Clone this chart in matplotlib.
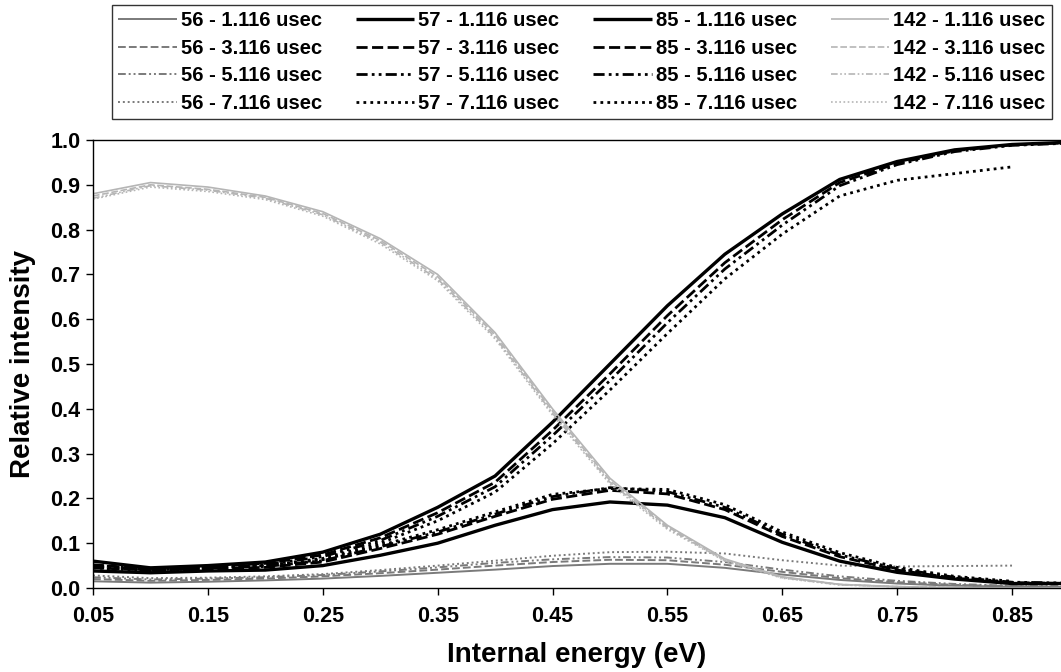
import matplotlib
matplotlib.use("Agg")
import matplotlib.pyplot as plt
import numpy as np

plt.rcParams['font.family'] = ['Liberation Sans', 'DejaVu Sans']
plt.rcParams['font.weight'] = 'bold'

# Internal energy categories (eV)
energy = [0.05, 0.10, 0.15, 0.20, 0.25, 0.30, 0.35, 0.40, 0.45,
          0.50, 0.55, 0.60, 0.65, 0.70, 0.75, 0.80, 0.85, 0.90]
tick_labels = ["0.05", "0.15", "0.25", "0.35", "0.45", "0.55", "0.65", "0.75", "0.85"]
times = ["1.116", "3.116", "5.116", "7.116"]

# m/z 56
s56_1 = [0.015, 0.012, 0.014, 0.017, 0.021, 0.027, 0.034, 0.041, 0.049, 0.054, 0.054, 0.045, 0.030, 0.018, 0.010, 0.005, 0.003, 0.002]
s56_3 = [0.020, 0.016, 0.018, 0.021, 0.026, 0.033, 0.041, 0.050, 0.058, 0.063, 0.062, 0.052, 0.036, 0.022, 0.013, 0.007, 0.004, 0.003]
s56_5 = [0.024, 0.019, 0.021, 0.024, 0.029, 0.037, 0.046, 0.056, 0.064, 0.069, 0.068, 0.058, 0.041, 0.026, 0.016, 0.009, 0.005, 0.004]
s56_7 = [0.028, 0.022, 0.023, 0.026, 0.031, 0.040, 0.050, 0.061, 0.072, 0.080, 0.081, 0.077, 0.062, 0.050, 0.048, 0.049, 0.050]

# m/z 57 (rising)
s57_1 = [0.060, 0.045, 0.050, 0.058, 0.080, 0.120, 0.180, 0.250, 0.370, 0.500, 0.630, 0.745, 0.835, 0.912, 0.952, 0.978, 0.990, 0.995]
s57_3 = [0.052, 0.042, 0.047, 0.055, 0.074, 0.112, 0.168, 0.236, 0.352, 0.478, 0.608, 0.726, 0.822, 0.905, 0.948, 0.976, 0.989, 0.994]
s57_5 = [0.048, 0.040, 0.045, 0.052, 0.070, 0.106, 0.160, 0.226, 0.340, 0.463, 0.592, 0.712, 0.810, 0.898, 0.945, 0.974, 0.988, 0.993]
s57_7 = [0.045, 0.038, 0.043, 0.050, 0.066, 0.100, 0.150, 0.214, 0.322, 0.442, 0.568, 0.690, 0.790, 0.875, 0.910, 0.925, 0.940]

# m/z 85 (intermediate)
s85_1 = [0.038, 0.034, 0.038, 0.040, 0.050, 0.073, 0.100, 0.140, 0.175, 0.192, 0.185, 0.157, 0.102, 0.060, 0.035, 0.020, 0.010, 0.010]
s85_3 = [0.045, 0.040, 0.043, 0.046, 0.058, 0.088, 0.120, 0.160, 0.198, 0.218, 0.210, 0.175, 0.115, 0.070, 0.040, 0.022, 0.012, 0.010]
s85_5 = [0.048, 0.042, 0.045, 0.048, 0.061, 0.092, 0.125, 0.165, 0.204, 0.224, 0.215, 0.180, 0.120, 0.074, 0.043, 0.024, 0.013, 0.011]
s85_7 = [0.050, 0.044, 0.047, 0.050, 0.063, 0.095, 0.130, 0.170, 0.209, 0.222, 0.220, 0.186, 0.125, 0.079, 0.046, 0.026, 0.015]

# m/z 142 (parent)
s142_1 = [0.880, 0.905, 0.895, 0.875, 0.840, 0.780, 0.700, 0.570, 0.400, 0.245, 0.140, 0.065, 0.025, 0.008, 0.003, 0.001, 0.000, 0.000]
s142_3 = [0.875, 0.900, 0.890, 0.872, 0.836, 0.776, 0.695, 0.565, 0.395, 0.240, 0.137, 0.063, 0.024, 0.008, 0.003, 0.001, 0.000, 0.000]
s142_5 = [0.870, 0.898, 0.888, 0.870, 0.833, 0.772, 0.690, 0.560, 0.390, 0.236, 0.134, 0.061, 0.023, 0.007, 0.003, 0.001, 0.000, 0.000]
s142_7 = [0.868, 0.895, 0.885, 0.867, 0.830, 0.768, 0.686, 0.556, 0.386, 0.232, 0.131, 0.060, 0.022, 0.007, 0.003, 0.001, 0.000]

series = {
    "56": [s56_1, s56_3, s56_5, s56_7],
    "57": [s57_1, s57_3, s57_5, s57_7],
    "85": [s85_1, s85_3, s85_5, s85_7],
    "142": [s142_1, s142_3, s142_5, s142_7],
}

styles = ['-', (0, (4, 1.6)), (0, (4, 1.5, 1, 1.5, 1, 1.5)), (0, (1, 1.5))]
colors = {"56": "#7a7a7a", "57": "black", "85": "black", "142": "#b5b5b5"}
widths = {"56": 1.4, "57": 2.4, "85": 2.4, "142": 1.2}

fig = plt.figure(figsize=(10.61, 6.72), dpi=100)
ax = fig.add_axes([93/1061, 84/672, 1 - 93/1061, 448/672])

handles = []
labels = []
for key in ["56", "57", "85", "142"]:
    for t, ys, ls in zip(times, series[key], styles):
        lw = widths[key]
        if key in ("57", "85") and ls != '-':
            lw = 2.0
        h, = ax.plot(energy[:len(ys)], ys, color=colors[key], linestyle=ls,
                     linewidth=lw, solid_capstyle='butt', dash_capstyle='butt')
        handles.append(h)
        labels.append(f"{key} - {t} usec")

ax.set_xlim(0.05, 0.85 + 49/1149)
ax.set_ylim(0.0, 1.0)
ax.set_xticks([0.05, 0.15, 0.25, 0.35, 0.45, 0.55, 0.65, 0.75, 0.85])
ax.set_xticklabels(tick_labels)
ax.set_yticks(np.arange(0, 1.01, 0.1))
ax.set_yticklabels([f"{v:.1f}" for v in np.arange(0, 1.01, 0.1)])
ax.tick_params(axis='both', labelsize=15.5, width=1.0, length=5, direction='out', pad=4)
ax.tick_params(axis='x', pad=8)
for lab in ax.get_xticklabels() + ax.get_yticklabels():
    lab.set_fontweight('bold')
ax.spines['right'].set_visible(False)
for sp in ['left', 'bottom', 'top']:
    ax.spines[sp].set_linewidth(1.0)

ax.set_xlabel("Internal energy (eV)", fontsize=20, fontweight='bold', labelpad=11)
ax.set_ylabel("Relative intensity", fontsize=20, fontweight='bold', labelpad=10)

leg = fig.legend(handles, labels, ncol=4, loc='upper left',
                 bbox_to_anchor=(112/1061, 1 - 118/672, (1052 - 112)/1061, 113/672),
                 mode='expand', frameon=True, fancybox=False, edgecolor='black',
                 fontsize=14.5, handlelength=2.9, handletextpad=0.2,
                 labelspacing=0.42, borderpad=0.32, columnspacing=1.0,
                 borderaxespad=0.0)
leg.get_frame().set_linewidth(1.0)
for txt in leg.get_texts():
    txt.set_fontweight('bold')

fig.savefig("out.png", dpi=100)
